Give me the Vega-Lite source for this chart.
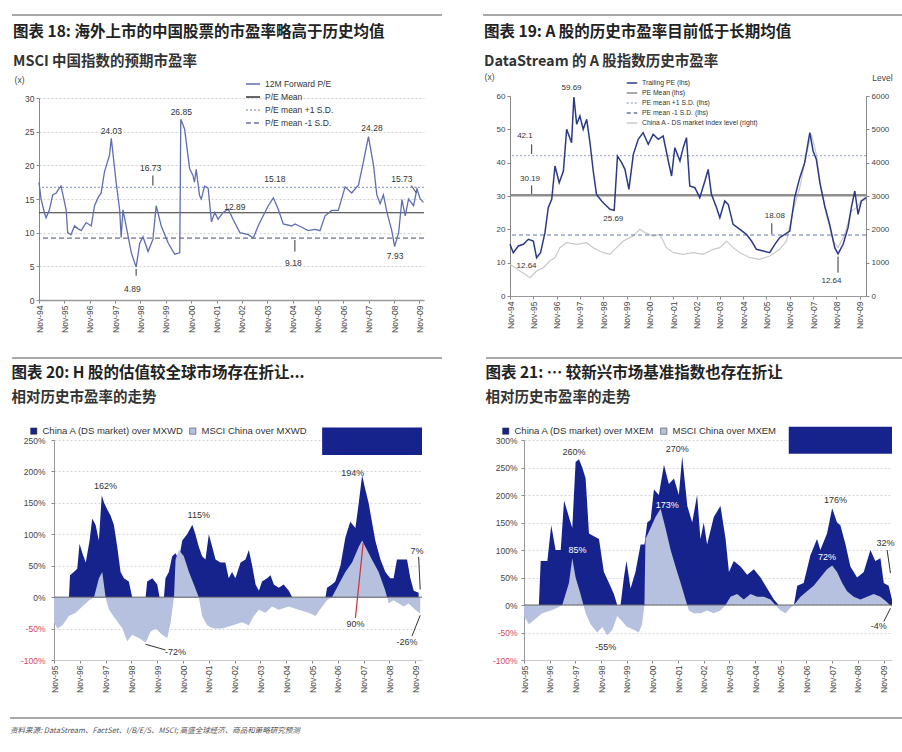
{
"$schema": "https://vega.github.io/schema/vega-lite/v6.json",
"background": "white",
"padding": {"left": 10, "top": 14, "right": 0, "bottom": 0},
"spacing": 24,
"resolve": {"scale": {"color": "independent", "strokeDash": "independent"}, "legend": {"color": "independent", "strokeDash": "independent"}},
"config": {
  "font": "Liberation Sans",
  "view": {"stroke": null},
  "title": {"anchor": "start", "frame": "bounds", "font": "Noto Sans CJK SC", "fontSize": 15.5, "fontWeight": "bold", "color": "#222", "subtitleFont": "Noto Sans CJK SC", "subtitleFontSize": 14.5, "subtitleFontWeight": "bold", "subtitleColor": "#333", "subtitlePadding": 14, "offset": 7},
  "axis": {"labelFont": "Liberation Sans", "labelFontSize": 8.5, "labelColor": "#444", "tickColor": "#888", "domainColor": "#888", "tickSize": 3, "titleFont": "Liberation Sans", "titleFontSize": 8.5, "titleFontWeight": "normal", "titleColor": "#444", "grid": false, "tickCount": 20},
  "legend": {"labelFont": "Liberation Sans", "labelColor": "#333"}
},
"datasets": {
  "p1": [{"t":1994.87,"v":17.5},{"t":1994.95,"v":15},{"t":1995.08,"v":13},{"t":1995.15,"v":12.2},{"t":1995.28,"v":13.4},{"t":1995.41,"v":15.6},{"t":1995.55,"v":15.9},{"t":1995.67,"v":16.6},{"t":1995.74,"v":16.9},{"t":1995.94,"v":13.4},{"t":1996.0,"v":10},{"t":1996.13,"v":9.7},{"t":1996.27,"v":11},{"t":1996.4,"v":10.6},{"t":1996.53,"v":10.3},{"t":1996.73,"v":11.5},{"t":1996.93,"v":11},{"t":1997.06,"v":14},{"t":1997.2,"v":15.2},{"t":1997.32,"v":15.9},{"t":1997.45,"v":19},{"t":1997.65,"v":21.5},{"t":1997.72,"v":24.03},{"t":1997.91,"v":17.5},{"t":1998.05,"v":13.4},{"t":1998.11,"v":9.3},{"t":1998.18,"v":13.4},{"t":1998.31,"v":10.9},{"t":1998.51,"v":7},{"t":1998.7,"v":4.89},{"t":1998.84,"v":8.4},{"t":1998.97,"v":9.4},{"t":1999.17,"v":7.2},{"t":1999.36,"v":9},{"t":1999.49,"v":14},{"t":1999.69,"v":11},{"t":1999.96,"v":8.5},{"t":2000.22,"v":6.8},{"t":2000.42,"v":7},{"t":2000.46,"v":26.85},{"t":2000.61,"v":25.4},{"t":2000.81,"v":19.5},{"t":2000.94,"v":18.5},{"t":2001.0,"v":17.5},{"t":2001.07,"v":19.4},{"t":2001.2,"v":15.5},{"t":2001.27,"v":15},{"t":2001.4,"v":16.9},{"t":2001.54,"v":16.6},{"t":2001.67,"v":11.6},{"t":2001.8,"v":13},{"t":2001.93,"v":12},{"t":2002.13,"v":13},{"t":2002.33,"v":13.5},{"t":2002.52,"v":12},{"t":2002.79,"v":10},{"t":2003.12,"v":9.7},{"t":2003.32,"v":9.2},{"t":2003.51,"v":11},{"t":2003.71,"v":12.5},{"t":2003.91,"v":14},{"t":2004.11,"v":15.18},{"t":2004.3,"v":13.5},{"t":2004.5,"v":11.3},{"t":2004.83,"v":11},{"t":2004.96,"v":11.3},{"t":2005.23,"v":10.8},{"t":2005.49,"v":10.3},{"t":2005.75,"v":10.5},{"t":2005.95,"v":10.3},{"t":2006.15,"v":12.5},{"t":2006.41,"v":13.3},{"t":2006.67,"v":13.3},{"t":2006.94,"v":16.8},{"t":2007.2,"v":15.9},{"t":2007.47,"v":17.1},{"t":2007.66,"v":20.5},{"t":2007.86,"v":24.28},{"t":2008.06,"v":20},{"t":2008.19,"v":15.6},{"t":2008.32,"v":14.3},{"t":2008.45,"v":15.6},{"t":2008.59,"v":13},{"t":2008.78,"v":10.3},{"t":2008.89,"v":7.93},{"t":2009.05,"v":10},{"t":2009.18,"v":14.9},{"t":2009.31,"v":12.5},{"t":2009.44,"v":15},{"t":2009.64,"v":14},{"t":2009.77,"v":16.5},{"t":2009.9,"v":15},{"t":2010.03,"v":14.5}],
  "p1r": [{"s":"P/E Mean","v":12.96},{"s":"P/E mean +1 S.D.","v":16.73},{"s":"P/E mean -1 S.D.","v":9.18}],
  "p1t": [{"t":1997.72,"v":25.1,"label":"24.03"},{"t":2000.48,"v":27.9,"label":"26.85"},{"t":1999.27,"v":19.6,"label":"16.73"},{"t":1998.55,"v":1.7,"label":"4.89"},{"t":2002.59,"v":13.8,"label":"12.89"},{"t":2004.17,"v":17.9,"label":"15.18"},{"t":2004.9,"v":5.5,"label":"9.18"},{"t":2008.0,"v":25.5,"label":"24.28"},{"t":2008.91,"v":6.6,"label":"7.93"},{"t":2009.18,"v":17.9,"label":"15.73"}],
  "p1a": [{"t":1999.36,"v":18.5,"t2":1999.36,"v2":17.0},{"t":2004.96,"v":7.2,"t2":2004.96,"v2":8.9},{"t":2009.55,"v":17.0,"t2":2009.75,"v2":15.9},{"t":1998.7,"v":3.6,"t2":1998.7,"v2":4.6}],
  "p2": [{"t":1994.87,"v":15.5},{"t":1995.01,"v":13},{"t":1995.23,"v":15},{"t":1995.44,"v":15.5},{"t":1995.66,"v":17},{"t":1995.87,"v":16.5},{"t":1996.01,"v":11.5},{"t":1996.18,"v":13},{"t":1996.37,"v":19},{"t":1996.51,"v":26.5},{"t":1996.66,"v":29},{"t":1996.8,"v":39},{"t":1996.98,"v":34},{"t":1997.16,"v":37.5},{"t":1997.3,"v":50},{"t":1997.51,"v":46},{"t":1997.61,"v":59.69},{"t":1997.73,"v":51.5},{"t":1997.87,"v":54},{"t":1998.01,"v":50},{"t":1998.16,"v":53},{"t":1998.3,"v":46},{"t":1998.44,"v":37.5},{"t":1998.58,"v":30.5},{"t":1998.8,"v":28.5},{"t":1999.01,"v":27},{"t":1999.16,"v":26},{"t":1999.34,"v":25.69},{"t":1999.48,"v":42},{"t":1999.66,"v":40},{"t":1999.8,"v":38},{"t":1999.97,"v":32},{"t":2000.16,"v":42.5},{"t":2000.37,"v":47},{"t":2000.58,"v":49},{"t":2000.8,"v":45.5},{"t":2001.01,"v":48.5},{"t":2001.23,"v":47},{"t":2001.44,"v":48},{"t":2001.66,"v":40.5},{"t":2001.8,"v":36},{"t":2001.94,"v":44.5},{"t":2002.16,"v":40.5},{"t":2002.3,"v":44.5},{"t":2002.44,"v":47.5},{"t":2002.58,"v":33},{"t":2002.8,"v":32.5},{"t":2003.01,"v":29.5},{"t":2003.23,"v":34.5},{"t":2003.37,"v":38},{"t":2003.51,"v":30.5},{"t":2003.73,"v":26.5},{"t":2003.87,"v":23.5},{"t":2004.08,"v":28.5},{"t":2004.23,"v":27.5},{"t":2004.44,"v":21.5},{"t":2004.73,"v":20},{"t":2005.01,"v":18.5},{"t":2005.23,"v":16.5},{"t":2005.44,"v":14},{"t":2005.73,"v":13.5},{"t":2006.01,"v":13},{"t":2006.23,"v":15.5},{"t":2006.44,"v":17.5},{"t":2006.66,"v":18.5},{"t":2006.87,"v":19.5},{"t":2007.08,"v":29.5},{"t":2007.3,"v":35.5},{"t":2007.51,"v":40},{"t":2007.73,"v":49},{"t":2007.87,"v":43.5},{"t":2008.01,"v":41},{"t":2008.16,"v":34},{"t":2008.37,"v":27},{"t":2008.58,"v":21.5},{"t":2008.8,"v":14.5},{"t":2008.94,"v":12.64},{"t":2009.16,"v":15.5},{"t":2009.37,"v":20.5},{"t":2009.51,"v":26.5},{"t":2009.66,"v":31.5},{"t":2009.8,"v":24.5},{"t":2009.94,"v":28.5},{"t":2010.14,"v":29.5}],
  "p2i": [{"t":1994.87,"v":950},{"t":1995.3,"v":750},{"t":1995.73,"v":550},{"t":1996.01,"v":750},{"t":1996.3,"v":850},{"t":1996.58,"v":1050},{"t":1996.8,"v":1150},{"t":1997.01,"v":1450},{"t":1997.3,"v":1600},{"t":1997.73,"v":1550},{"t":1998.16,"v":1600},{"t":1998.44,"v":1450},{"t":1998.87,"v":1300},{"t":1999.16,"v":1250},{"t":1999.44,"v":1450},{"t":1999.73,"v":1650},{"t":2000.16,"v":1800},{"t":2000.44,"v":2000},{"t":2000.66,"v":1900},{"t":2001.01,"v":1800},{"t":2001.3,"v":1850},{"t":2001.58,"v":1450},{"t":2001.87,"v":1300},{"t":2002.3,"v":1250},{"t":2002.73,"v":1300},{"t":2003.16,"v":1250},{"t":2003.58,"v":1400},{"t":2003.87,"v":1450},{"t":2004.16,"v":1650},{"t":2004.44,"v":1450},{"t":2004.73,"v":1300},{"t":2005.16,"v":1150},{"t":2005.58,"v":1100},{"t":2006.01,"v":1200},{"t":2006.44,"v":1400},{"t":2006.73,"v":1650},{"t":2007.01,"v":2550},{"t":2007.3,"v":3250},{"t":2007.58,"v":4250},{"t":2007.8,"v":4850},{"t":2008.01,"v":4250},{"t":2008.23,"v":3150},{"t":2008.44,"v":2450},{"t":2008.73,"v":1650},{"t":2008.94,"v":1450},{"t":2009.23,"v":1850},{"t":2009.51,"v":2550},{"t":2009.73,"v":2650},{"t":2009.94,"v":2850},{"t":2010.14,"v":2900}],
  "p2m": [{"s":"PE Mean (lhs)","v":30.19}],
  "p2r": [{"s":"PE mean +1 S.D. (lhs)","v":42.1},{"s":"PE mean -1 S.D. (lhs)","v":18.3}],
  "p2t": [{"t":1997.51,"v":62.3,"label":"59.69"},{"t":1995.51,"v":47.9,"label":"42.1"},{"t":1995.73,"v":35.0,"label":"30.19"},{"t":1995.58,"v":9.0,"label":"12.64"},{"t":1999.3,"v":23.0,"label":"25.69"},{"t":2006.23,"v":24.0,"label":"18.08"},{"t":2008.66,"v":4.5,"label":"12.64"}],
  "p2a": [{"t":1995.8,"v":45.5,"t2":1995.8,"v2":42.6},{"t":1995.8,"v":33.2,"t2":1995.8,"v2":30.6},{"t":2006.1,"v":21.8,"t2":2006.1,"v2":18.6},{"t":2008.94,"v":7.0,"t2":2008.94,"v2":11.8}],
  "p3a": [{"t":1995.87,"v":0},{"t":1996.45,"v":0},{"t":1996.49,"v":35},{"t":1996.64,"v":40},{"t":1996.77,"v":45},{"t":1996.86,"v":85},{"t":1996.97,"v":70},{"t":1997.1,"v":55},{"t":1997.25,"v":90},{"t":1997.35,"v":125},{"t":1997.48,"v":115},{"t":1997.61,"v":90},{"t":1997.72,"v":162},{"t":1997.81,"v":150},{"t":1997.93,"v":140},{"t":1998.06,"v":130},{"t":1998.19,"v":115},{"t":1998.32,"v":80},{"t":1998.45,"v":40},{"t":1998.58,"v":30},{"t":1998.77,"v":25},{"t":1998.9,"v":0},{"t":1999.42,"v":0},{"t":1999.48,"v":25},{"t":1999.68,"v":30},{"t":1999.87,"v":20},{"t":1999.96,"v":0},{"t":2000.13,"v":0},{"t":2000.19,"v":30},{"t":2000.32,"v":40},{"t":2000.45,"v":65},{"t":2000.58,"v":70},{"t":2000.71,"v":60},{"t":2000.84,"v":90},{"t":2001.03,"v":100},{"t":2001.23,"v":115},{"t":2001.35,"v":100},{"t":2001.48,"v":80},{"t":2001.61,"v":65},{"t":2001.74,"v":60},{"t":2001.87,"v":100},{"t":2002.0,"v":80},{"t":2002.13,"v":60},{"t":2002.32,"v":55},{"t":2002.51,"v":55},{"t":2002.64,"v":30},{"t":2002.77,"v":40},{"t":2002.9,"v":30},{"t":2003.1,"v":55},{"t":2003.29,"v":60},{"t":2003.42,"v":75},{"t":2003.55,"v":50},{"t":2003.68,"v":20},{"t":2003.81,"v":10},{"t":2003.93,"v":25},{"t":2004.13,"v":30},{"t":2004.26,"v":35},{"t":2004.39,"v":20},{"t":2004.58,"v":15},{"t":2004.77,"v":20},{"t":2004.97,"v":10},{"t":2005.1,"v":0},{"t":2006.39,"v":0},{"t":2006.45,"v":15},{"t":2006.64,"v":20},{"t":2006.77,"v":25},{"t":2006.97,"v":50},{"t":2007.16,"v":95},{"t":2007.35,"v":120},{"t":2007.55,"v":110},{"t":2007.68,"v":150},{"t":2007.81,"v":194},{"t":2007.94,"v":170},{"t":2008.06,"v":150},{"t":2008.19,"v":120},{"t":2008.32,"v":90},{"t":2008.52,"v":60},{"t":2008.71,"v":40},{"t":2008.9,"v":30},{"t":2009.03,"v":30},{"t":2009.16,"v":60},{"t":2009.35,"v":60},{"t":2009.55,"v":60},{"t":2009.68,"v":30},{"t":2009.81,"v":10},{"t":2010.0,"v":7}],
  "p3m": [{"t":1995.87,"v":-40},{"t":1996.0,"v":-50},{"t":1996.19,"v":-45},{"t":1996.45,"v":-30},{"t":1996.71,"v":-25},{"t":1996.97,"v":-15},{"t":1997.23,"v":-5},{"t":1997.42,"v":0},{"t":1997.61,"v":30},{"t":1997.74,"v":40},{"t":1997.87,"v":0},{"t":1998.0,"v":-20},{"t":1998.26,"v":-35},{"t":1998.52,"v":-50},{"t":1998.71,"v":-70},{"t":1998.9,"v":-60},{"t":1999.16,"v":-65},{"t":1999.42,"v":-72},{"t":1999.61,"v":-55},{"t":1999.81,"v":-50},{"t":2000.06,"v":-60},{"t":2000.26,"v":-65},{"t":2000.39,"v":-40},{"t":2000.52,"v":0},{"t":2000.58,"v":60},{"t":2000.71,"v":75},{"t":2000.9,"v":65},{"t":2001.1,"v":40},{"t":2001.29,"v":20},{"t":2001.48,"v":0},{"t":2001.61,"v":-30},{"t":2001.81,"v":-45},{"t":2002.06,"v":-50},{"t":2002.39,"v":-50},{"t":2002.77,"v":-45},{"t":2003.16,"v":-40},{"t":2003.42,"v":-45},{"t":2003.61,"v":-30},{"t":2003.81,"v":-20},{"t":2004.06,"v":-25},{"t":2004.32,"v":-15},{"t":2004.58,"v":-20},{"t":2004.97,"v":-15},{"t":2005.35,"v":-20},{"t":2005.74,"v":-25},{"t":2006.0,"v":-30},{"t":2006.26,"v":-15},{"t":2006.45,"v":-5},{"t":2006.64,"v":0},{"t":2006.9,"v":20},{"t":2007.16,"v":40},{"t":2007.42,"v":55},{"t":2007.68,"v":80},{"t":2007.81,"v":90},{"t":2008.0,"v":75},{"t":2008.19,"v":60},{"t":2008.45,"v":40},{"t":2008.71,"v":10},{"t":2008.84,"v":-10},{"t":2009.03,"v":-5},{"t":2009.23,"v":-10},{"t":2009.42,"v":-15},{"t":2009.61,"v":-10},{"t":2009.87,"v":-20},{"t":2010.06,"v":-26}],
  "p3t": [{"t":1997.87,"v":177,"label":"162%"},{"t":2001.48,"v":130,"label":"115%"},{"t":2007.45,"v":198,"label":"194%"},{"t":2009.94,"v":74,"label":"7%"},{"t":2007.55,"v":-42,"label":"90%"},{"t":2000.58,"v":-87,"label":"-72%"},{"t":2009.55,"v":-71,"label":"-26%"}],
  "p3l": [{"t":1999.42,"v":-75,"t2":2000.19,"v2":-84},{"t":2010.0,"v":64,"t2":2010.06,"v2":12},{"t":2009.74,"v":-62,"t2":2010.06,"v2":-29}],
  "p3r": [{"t":2007.55,"v":-33,"t2":2007.85,"v2":86}],
  "p3b": [{"t0":2006.26,"t1":2010.13,"v0":226,"v1":270}],
  "p4a": [{"t":1995.87,"v":0},{"t":1996.45,"v":0},{"t":1996.52,"v":80},{"t":1996.78,"v":80},{"t":1996.93,"v":145},{"t":1997.1,"v":100},{"t":1997.3,"v":100},{"t":1997.43,"v":190},{"t":1997.62,"v":160},{"t":1997.75,"v":140},{"t":1997.88,"v":260},{"t":1998.01,"v":265},{"t":1998.14,"v":250},{"t":1998.27,"v":230},{"t":1998.4,"v":130},{"t":1998.59,"v":125},{"t":1998.79,"v":120},{"t":1998.98,"v":60},{"t":1999.18,"v":40},{"t":1999.37,"v":20},{"t":1999.5,"v":0},{"t":1999.63,"v":0},{"t":1999.76,"v":50},{"t":1999.86,"v":80},{"t":2000.02,"v":30},{"t":2000.21,"v":60},{"t":2000.41,"v":110},{"t":2000.56,"v":110},{"t":2000.67,"v":150},{"t":2000.8,"v":155},{"t":2000.93,"v":210},{"t":2001.12,"v":200},{"t":2001.32,"v":255},{"t":2001.51,"v":220},{"t":2001.71,"v":230},{"t":2001.9,"v":200},{"t":2002.03,"v":270},{"t":2002.23,"v":180},{"t":2002.42,"v":150},{"t":2002.61,"v":200},{"t":2002.74,"v":120},{"t":2002.87,"v":150},{"t":2003.0,"v":110},{"t":2003.26,"v":160},{"t":2003.52,"v":180},{"t":2003.72,"v":120},{"t":2003.85,"v":60},{"t":2004.04,"v":80},{"t":2004.3,"v":70},{"t":2004.56,"v":55},{"t":2004.82,"v":65},{"t":2005.08,"v":50},{"t":2005.34,"v":30},{"t":2005.6,"v":10},{"t":2005.79,"v":0},{"t":2006.38,"v":0},{"t":2006.51,"v":35},{"t":2006.76,"v":40},{"t":2007.02,"v":90},{"t":2007.28,"v":120},{"t":2007.41,"v":100},{"t":2007.67,"v":130},{"t":2007.87,"v":176},{"t":2008.06,"v":150},{"t":2008.19,"v":145},{"t":2008.39,"v":110},{"t":2008.58,"v":70},{"t":2008.84,"v":50},{"t":2009.1,"v":60},{"t":2009.36,"v":100},{"t":2009.55,"v":80},{"t":2009.75,"v":85},{"t":2009.88,"v":40},{"t":2010.07,"v":35},{"t":2010.2,"v":10}],
  "p4m": [{"t":1995.87,"v":-20},{"t":1996.06,"v":-35},{"t":1996.32,"v":-25},{"t":1996.58,"v":-15},{"t":1996.91,"v":-10},{"t":1997.17,"v":-5},{"t":1997.36,"v":0},{"t":1997.62,"v":40},{"t":1997.75,"v":85},{"t":1997.88,"v":50},{"t":1998.07,"v":20},{"t":1998.27,"v":-15},{"t":1998.46,"v":-35},{"t":1998.72,"v":-50},{"t":1998.92,"v":-40},{"t":1999.11,"v":-55},{"t":1999.31,"v":-45},{"t":1999.5,"v":-20},{"t":1999.7,"v":-30},{"t":1999.89,"v":-40},{"t":2000.15,"v":-45},{"t":2000.34,"v":-50},{"t":2000.47,"v":-35},{"t":2000.56,"v":0},{"t":2000.6,"v":120},{"t":2000.8,"v":140},{"t":2000.99,"v":160},{"t":2001.19,"v":175},{"t":2001.38,"v":140},{"t":2001.58,"v":100},{"t":2001.77,"v":70},{"t":2001.97,"v":40},{"t":2002.16,"v":10},{"t":2002.29,"v":-10},{"t":2002.48,"v":-15},{"t":2002.74,"v":-15},{"t":2003.0,"v":-10},{"t":2003.26,"v":-15},{"t":2003.52,"v":-10},{"t":2003.72,"v":0},{"t":2003.91,"v":15},{"t":2004.17,"v":20},{"t":2004.43,"v":10},{"t":2004.69,"v":20},{"t":2004.95,"v":15},{"t":2005.21,"v":15},{"t":2005.47,"v":10},{"t":2005.66,"v":0},{"t":2005.86,"v":-10},{"t":2006.05,"v":-15},{"t":2006.25,"v":-5},{"t":2006.38,"v":0},{"t":2006.64,"v":15},{"t":2006.89,"v":25},{"t":2007.15,"v":35},{"t":2007.41,"v":50},{"t":2007.67,"v":65},{"t":2007.87,"v":72},{"t":2008.06,"v":60},{"t":2008.26,"v":40},{"t":2008.45,"v":25},{"t":2008.71,"v":15},{"t":2008.97,"v":10},{"t":2009.23,"v":15},{"t":2009.49,"v":20},{"t":2009.75,"v":15},{"t":2010.01,"v":5},{"t":2010.2,"v":-4}],
  "p4t": [{"t":1997.82,"v":279,"label":"260%"},{"t":2001.84,"v":283,"label":"270%"},{"t":2008.0,"v":191,"label":"176%"},{"t":2009.95,"v":112,"label":"32%"},{"t":2009.68,"v":-39,"label":"-4%"},{"t":1999.05,"v":-76,"label":"-55%"}],
  "p4w": [{"t":1997.95,"v":100,"label":"85%"},{"t":2001.45,"v":182,"label":"173%"},{"t":2007.67,"v":88,"label":"72%"}],
  "p4l": [{"t":2010.01,"v":100,"t2":2010.14,"v2":58},{"t":2009.88,"v":-30,"t2":2010.14,"v2":-6}],
  "p4b": [{"t0":2006.18,"t1":2010.2,"v0":275,"v1":324}]
},
"vconcat": [
 {"spacing": 0, "resolve": {"scale": {"color": "independent", "strokeDash": "independent"}, "legend": {"color": "independent", "strokeDash": "independent"}}, "hconcat": [
  {"width": 1, "height": 1, "data": {"values": [{}]}, "mark": {"type": "rect", "opacity": 0}, "encoding": {}},
  {"spacing": 41, "resolve": {"scale": {"color": "independent", "strokeDash": "independent"}, "legend": {"color": "independent", "strokeDash": "independent"}}, "hconcat": [
  {"spacing": 9, "resolve": {"scale": {"color": "independent", "strokeDash": "independent"}, "legend": {"color": "independent", "strokeDash": "independent"}}, "vconcat": [
    {"width": 403, "height": 2, "data": {"values": [{}]}, "mark": {"type": "rect", "color": "#a8a8a8"},
     "encoding": {"x": {"datum": -0.067, "type": "quantitative", "scale": {"domain": [0, 1], "nice": false, "zero": false}, "axis": null}, "x2": {"datum": 1}}},
    {"width": 385, "height": 202,
     "title": {"text": "图表 18: 海外上市的中国股票的市盈率略高于历史均值", "subtitle": "MSCI 中国指数的预期市盈率", "dx": -1},
     "layer": [
      {"data": {"name": "p1r"}, "mark": {"type": "rule", "strokeWidth": 1.2},
       "encoding": {"y": {"field": "v", "type": "quantitative"},
        "color": {"field": "s", "type": "nominal", "scale": {"domain": ["12M Forward P/E", "P/E Mean", "P/E mean +1 S.D.", "P/E mean -1 S.D."], "range": ["#5f6db2", "#333333", "#9aa5cc", "#6a7196"]},
          "legend": {"title": null, "orient": "none", "legendX": 206, "legendY": -22, "symbolType": "stroke", "symbolSize": 200, "symbolStrokeWidth": 1.5, "labelFontSize": 8.5, "rowPadding": 0}},
        "strokeDash": {"field": "s", "type": "nominal", "scale": {"domain": ["12M Forward P/E", "P/E Mean", "P/E mean +1 S.D.", "P/E mean -1 S.D."], "range": [[1,0],[1,0],[2,2],[5,3]]},
          "legend": {"title": null, "orient": "none", "legendX": 206, "legendY": -22, "symbolType": "stroke", "symbolSize": 200, "symbolStrokeWidth": 1.5, "labelFontSize": 8.5, "rowPadding": 0}}}},
      {"data": {"name": "p1"}, "mark": {"type": "line", "strokeWidth": 1.3},
       "encoding": {
        "x": {"field": "t", "type": "quantitative", "scale": {"domain": [1994.87, 2010.05], "nice": false, "zero": false},
          "axis": {"title": null, "values": [1994.87,1995.87,1996.87,1997.87,1998.87,1999.87,2000.87,2001.87,2002.87,2003.87,2004.87,2005.87,2006.87,2007.87,2008.87,2009.87], "tickCount": 30, "labelExpr": "'Nov-' + substring(toString(floor(datum.value)), 2, 4)", "labelAngle": 270, "labelFontSize": 8.5, "labelOverlap": false, "labelFlush": false, "domainColor": "#999", "domainWidth": 1.5, "grid": false}},
        "y": {"field": "v", "type": "quantitative", "scale": {"domain": [0, 30], "nice": false},
          "axis": {"title": "(x)", "titleAngle": 0, "titleX": -20, "titleY": -14, "titleAlign": "center", "values": [0,5,10,15,20,25,30], "tickCount": 30, "labelOverlap": false, "grid": true, "gridDash": [2,2], "gridColor": "#d0d0d0"}},
        "color": {"datum": "12M Forward P/E", "type": "nominal"}}},
      {"data": {"name": "p1a"}, "mark": {"type": "rule", "color": "#333", "strokeWidth": 1},
       "encoding": {"x": {"field": "t", "type": "quantitative"}, "y": {"field": "v", "type": "quantitative"}, "x2": {"field": "t2"}, "y2": {"field": "v2"}}},
      {"data": {"name": "p1t"}, "mark": {"type": "text", "fontSize": 8.5, "color": "#333", "font": "Liberation Sans"},
       "encoding": {"x": {"field": "t", "type": "quantitative"}, "y": {"field": "v", "type": "quantitative"}, "text": {"field": "label"}}}
     ]}
  ]},
  {"spacing": 9, "resolve": {"scale": {"color": "independent", "strokeDash": "independent"}, "legend": {"color": "independent", "strokeDash": "independent"}}, "vconcat": [
    {"width": 394, "height": 2, "data": {"values": [{}]}, "mark": {"type": "rect", "color": "#a8a8a8"},
     "encoding": {"x": {"datum": -0.0685, "type": "quantitative", "scale": {"domain": [0, 1], "nice": false, "zero": false}, "axis": null}, "x2": {"datum": 1}}},
    {"width": 356, "height": 200,
     "title": {"text": "图表 19: A 股的历史市盈率目前低于长期均值", "subtitle": "DataStream 的 A 股指数历史市盈率", "dx": 0, "offset": 4},
     "layer": [
      {"data": {"name": "p2i"}, "mark": {"type": "line", "strokeWidth": 1.2},
       "encoding": {
        "x": {"field": "t", "type": "quantitative", "scale": {"domain": [1994.87, 2010.14], "nice": false, "zero": false},
          "axis": {"title": null, "values": [1994.87,1995.87,1996.87,1997.87,1998.87,1999.87,2000.87,2001.87,2002.87,2003.87,2004.87,2005.87,2006.87,2007.87,2008.87,2009.87], "tickCount": 30, "labelExpr": "'Nov-' + substring(toString(floor(datum.value)), 2, 4)", "labelAngle": 270, "labelFontSize": 8.5, "labelOverlap": false, "labelFlush": false, "domainColor": "#999", "grid": false}},
        "y": {"field": "v", "type": "quantitative", "scale": {"domain": [0, 6000], "nice": false},
          "axis": {"orient": "right", "title": "Level", "titleAngle": 0, "titleX": 16, "titleY": -14, "titleAlign": "center", "values": [0,1000,2000,3000,4000,5000,6000], "tickCount": 30, "labelOverlap": false, "format": "d", "labelFontSize": 8}},
        "color": {"datum": "China A - DS market Index level (right)", "type": "nominal"}}},
      {"layer": [
        {"data": {"name": "p2m"}, "mark": {"type": "rule", "strokeWidth": 2.5},
         "encoding": {"y": {"field": "v", "type": "quantitative", "scale": {"domain": [0, 60], "nice": false},
            "axis": {"orient": "left", "title": "(x)", "titleAngle": 0, "titleX": -21, "titleY": -15, "titleAlign": "center", "values": [0,10,20,30,40,50,60], "tickCount": 30, "labelOverlap": false, "labelFontSize": 8}},
          "color": {"field": "s", "type": "nominal", "scale": {"domain": ["Trailing PE (lhs)", "PE Mean (lhs)", "PE mean +1 S.D. (lhs)", "PE mean -1 S.D. (lhs)", "China A - DS market Index level (right)"], "range": ["#2c3a86", "#8e8e8e", "#a9b2d2", "#6576aa", "#c9c9c9"]},
            "legend": {"title": null, "orient": "none", "legendX": 116, "legendY": -19, "symbolType": "stroke", "symbolSize": 110, "symbolStrokeWidth": 1.5, "labelFontSize": 6.8, "rowPadding": 0}},
          "strokeDash": {"field": "s", "type": "nominal", "scale": {"domain": ["Trailing PE (lhs)", "PE Mean (lhs)", "PE mean +1 S.D. (lhs)", "PE mean -1 S.D. (lhs)", "China A - DS market Index level (right)"], "range": [[1,0],[1,0],[2,2],[4,3],[1,0]]},
            "legend": {"title": null, "orient": "none", "legendX": 116, "legendY": -19, "symbolType": "stroke", "symbolSize": 110, "symbolStrokeWidth": 1.5, "labelFontSize": 6.8, "rowPadding": 0}}}},
        {"data": {"name": "p2r"}, "mark": {"type": "rule", "strokeWidth": 1.2},
         "encoding": {"y": {"field": "v", "type": "quantitative"}, "color": {"field": "s", "type": "nominal"}, "strokeDash": {"field": "s", "type": "nominal"}}},
        {"data": {"name": "p2"}, "mark": {"type": "line", "strokeWidth": 1.5},
         "encoding": {"x": {"field": "t", "type": "quantitative"}, "y": {"field": "v", "type": "quantitative"}, "color": {"datum": "Trailing PE (lhs)", "type": "nominal"}}},
        {"data": {"name": "p2a"}, "mark": {"type": "rule", "color": "#333", "strokeWidth": 1},
         "encoding": {"x": {"field": "t", "type": "quantitative"}, "y": {"field": "v", "type": "quantitative"}, "x2": {"field": "t2"}, "y2": {"field": "v2"}}},
        {"data": {"name": "p2t"}, "mark": {"type": "text", "fontSize": 8, "color": "#333", "font": "Liberation Sans"},
         "encoding": {"x": {"field": "t", "type": "quantitative"}, "y": {"field": "v", "type": "quantitative"}, "text": {"field": "label"}}}
      ]}
     ],
     "resolve": {"scale": {"y": "independent"}}}
  ]}
  ]}
 ]},
 {"spacing": 0, "resolve": {"scale": {"color": "independent", "strokeDash": "independent"}, "legend": {"color": "independent", "strokeDash": "independent"}}, "hconcat": [
  {"width": 1, "height": 1, "data": {"values": [{}]}, "mark": {"type": "rect", "opacity": 0}, "encoding": {}},
  {"spacing": 43, "resolve": {"scale": {"color": "independent", "strokeDash": "independent"}, "legend": {"color": "independent", "strokeDash": "independent"}}, "hconcat": [
  {"spacing": 7, "resolve": {"scale": {"color": "independent"}, "legend": {"color": "independent"}}, "vconcat": [
    {"width": 388, "height": 2, "data": {"values": [{}]}, "mark": {"type": "rect", "color": "#a8a8a8"},
     "encoding": {"x": {"datum": -0.108, "type": "quantitative", "scale": {"domain": [0, 1], "nice": false, "zero": false}, "axis": null}, "x2": {"datum": 1}}},
    {"width": 368, "height": 220,
     "title": {"text": "图表 20: H 股的估值较全球市场存在折让...", "subtitle": "相对历史市盈率的走势", "dx": -9, "subtitlePadding": 9, "offset": 22},
     "layer": [
      {"data": {"name": "p3a"}, "mark": {"type": "area"},
       "encoding": {
        "x": {"field": "t", "type": "quantitative", "scale": {"domain": [1995.87, 2010.13], "nice": false, "zero": false},
          "axis": {"title": null, "values": [1995.87,1996.87,1997.87,1998.87,1999.87,2000.87,2001.87,2002.87,2003.87,2004.87,2005.87,2006.87,2007.87,2008.87,2009.87], "tickCount": 30, "labelExpr": "'Nov-' + substring(toString(floor(datum.value)), 2, 4)", "labelAngle": 270, "labelFontSize": 8.5, "labelOverlap": false, "labelFlush": false, "domainColor": "#ccc", "grid": false}},
        "y": {"field": "v", "type": "quantitative", "scale": {"domain": [-100, 250], "nice": false},
          "axis": {"title": null, "values": [-100,-50,0,50,100,150,200,250], "tickCount": 30, "labelOverlap": false, "labelExpr": "datum.value + '%'", "labelColor": {"condition": {"test": "datum.value < 0", "value": "#d0475a"}, "value": "#444"}, "labelFontSize": 8.5, "labelPadding": 6, "grid": true, "gridDash": [2,2], "gridColor": "#d5d5d5", "domainColor": "#999"}},
        "color": {"datum": "China A (DS market) over MXWD", "type": "nominal", "scale": {"domain": ["China A (DS market) over MXWD", "MSCI China over MXWD"], "range": ["#16238d", "#b6c0df"]},
          "legend": {"title": null, "orient": "none", "direction": "horizontal", "legendX": -25, "legendY": -14, "symbolType": "square", "symbolSize": 40, "symbolStrokeColor": "#333", "symbolStrokeWidth": 0.5, "labelFontSize": 9.5, "columnPadding": 4}}}},
      {"data": {"name": "p3m"}, "mark": {"type": "area"},
       "encoding": {"x": {"field": "t", "type": "quantitative"}, "y": {"field": "v", "type": "quantitative"}, "color": {"datum": "MSCI China over MXWD", "type": "nominal"}}},
      {"data": {"values": [{}]}, "mark": {"type": "rule", "color": "#666", "strokeWidth": 1}, "encoding": {"y": {"datum": 0, "type": "quantitative"}}},
      {"data": {"name": "p3b"}, "mark": {"type": "rect", "color": "#16238d"},
       "encoding": {"x": {"field": "t0", "type": "quantitative"}, "x2": {"field": "t1"}, "y": {"field": "v0", "type": "quantitative"}, "y2": {"field": "v1"}}},
      {"data": {"name": "p3l"}, "mark": {"type": "rule", "color": "#333", "strokeWidth": 1},
       "encoding": {"x": {"field": "t", "type": "quantitative"}, "y": {"field": "v", "type": "quantitative"}, "x2": {"field": "t2"}, "y2": {"field": "v2"}}},
      {"data": {"name": "p3r"}, "mark": {"type": "rule", "color": "#d0303a", "strokeWidth": 1.2},
       "encoding": {"x": {"field": "t", "type": "quantitative"}, "y": {"field": "v", "type": "quantitative"}, "x2": {"field": "t2"}, "y2": {"field": "v2"}}},
      {"data": {"name": "p3t"}, "mark": {"type": "text", "fontSize": 9, "color": "#333", "font": "Liberation Sans"},
       "encoding": {"x": {"field": "t", "type": "quantitative"}, "y": {"field": "v", "type": "quantitative"}, "text": {"field": "label"}}}
     ]}
  ]},
  {"spacing": 7, "resolve": {"scale": {"color": "independent"}, "legend": {"color": "independent"}}, "vconcat": [
    {"width": 381, "height": 2, "data": {"values": [{}]}, "mark": {"type": "rect", "color": "#a8a8a8"},
     "encoding": {"x": {"datum": -0.0997, "type": "quantitative", "scale": {"domain": [0, 1], "nice": false, "zero": false}, "axis": null}, "x2": {"datum": 1}}},
    {"width": 368, "height": 220,
     "title": {"text": "图表 21: … 较新兴市场基准指数也存在折让", "subtitle": "相对历史市盈率的走势", "dx": -7, "subtitlePadding": 9, "offset": 22},
     "layer": [
      {"data": {"name": "p4a"}, "mark": {"type": "area"},
       "encoding": {
        "x": {"field": "t", "type": "quantitative", "scale": {"domain": [1995.87, 2010.2], "nice": false, "zero": false},
          "axis": {"title": null, "values": [1995.87,1996.87,1997.87,1998.87,1999.87,2000.87,2001.87,2002.87,2003.87,2004.87,2005.87,2006.87,2007.87,2008.87,2009.87], "tickCount": 30, "labelExpr": "'Nov-' + substring(toString(floor(datum.value)), 2, 4)", "labelAngle": 270, "labelFontSize": 8.5, "labelOverlap": false, "labelFlush": false, "domainColor": "#ccc", "grid": false}},
        "y": {"field": "v", "type": "quantitative", "scale": {"domain": [-100, 300], "nice": false},
          "axis": {"title": null, "values": [-100,-50,0,50,100,150,200,250,300], "tickCount": 30, "labelOverlap": false, "labelExpr": "datum.value + '%'", "labelColor": {"condition": {"test": "datum.value < 0", "value": "#d0475a"}, "value": "#444"}, "labelFontSize": 8.5, "labelPadding": 4, "grid": true, "gridDash": [2,2], "gridColor": "#d5d5d5", "domainColor": "#999"}},
        "color": {"datum": "China A (DS market) over MXEM", "type": "nominal", "scale": {"domain": ["China A (DS market) over MXEM", "MSCI China over MXEM"], "range": ["#16238d", "#b6c0df"]},
          "legend": {"title": null, "orient": "none", "direction": "horizontal", "legendX": -23, "legendY": -14, "symbolType": "square", "symbolSize": 40, "symbolStrokeColor": "#333", "symbolStrokeWidth": 0.5, "labelFontSize": 9.5, "columnPadding": 4}}}},
      {"data": {"name": "p4m"}, "mark": {"type": "area"},
       "encoding": {"x": {"field": "t", "type": "quantitative"}, "y": {"field": "v", "type": "quantitative"}, "color": {"datum": "MSCI China over MXEM", "type": "nominal"}}},
      {"data": {"values": [{}]}, "mark": {"type": "rule", "color": "#666", "strokeWidth": 1}, "encoding": {"y": {"datum": 0, "type": "quantitative"}}},
      {"data": {"name": "p4b"}, "mark": {"type": "rect", "color": "#16238d"},
       "encoding": {"x": {"field": "t0", "type": "quantitative"}, "x2": {"field": "t1"}, "y": {"field": "v0", "type": "quantitative"}, "y2": {"field": "v1"}}},
      {"data": {"name": "p4l"}, "mark": {"type": "rule", "color": "#333", "strokeWidth": 1},
       "encoding": {"x": {"field": "t", "type": "quantitative"}, "y": {"field": "v", "type": "quantitative"}, "x2": {"field": "t2"}, "y2": {"field": "v2"}}},
      {"data": {"name": "p4t"}, "mark": {"type": "text", "fontSize": 9, "color": "#333", "font": "Liberation Sans"},
       "encoding": {"x": {"field": "t", "type": "quantitative"}, "y": {"field": "v", "type": "quantitative"}, "text": {"field": "label"}}},
      {"data": {"name": "p4w"}, "mark": {"type": "text", "fontSize": 9, "color": "white", "font": "Liberation Sans"},
       "encoding": {"x": {"field": "t", "type": "quantitative"}, "y": {"field": "v", "type": "quantitative"}, "text": {"field": "label"}}}
     ]}
  ]}
  ]}
 ]},
 {"width": 892, "height": 2, "data": {"values": [{}]}, "mark": {"type": "rect", "color": "#a8a8a8"}, "encoding": {},
  "title": {"text": "资料来源: DataStream、FactSet、I/B/E/S、MSCI; 高盛全球经济、商品和策略研究预测", "orient": "bottom", "anchor": "start", "fontSize": 7.5, "fontWeight": "normal", "fontStyle": "italic", "color": "#555", "offset": 8}}
]
}
